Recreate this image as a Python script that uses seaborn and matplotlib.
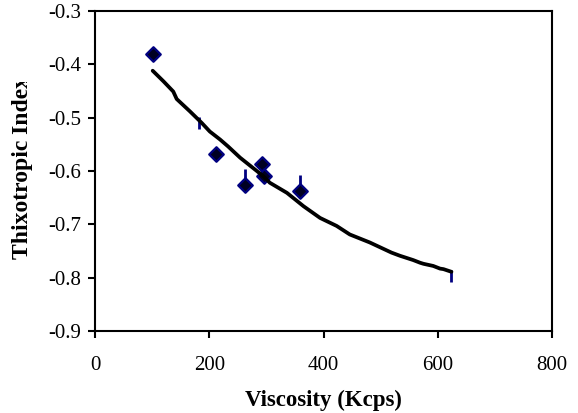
import matplotlib
matplotlib.use("Agg")
import matplotlib.pyplot as plt
import seaborn as sns
from matplotlib.transforms import Bbox


sns.set_theme(style="white")
plt.rcParams["font.family"] = ["Liberation Serif", "DejaVu Serif"]

# measured points
visc = [101, 212, 262, 292, 296, 358]
thix = [-0.380, -0.569, -0.627, -0.587, -0.610, -0.638]

# vertical error marks
bar_x = [182, 262, 358, 624]
bar_lo = [-0.521, -0.627, -0.638, -0.809]
bar_hi = [-0.498, -0.597, -0.608, -0.786]

# trend curve
fit_x = [101, 120, 137, 143, 166, 187, 201, 219, 233, 254, 295, 306, 336,
         365, 394, 423, 446, 481, 519, 534, 557, 569, 575, 592, 604, 610, 624]
fit_y = [-0.412, -0.432, -0.451, -0.465, -0.488, -0.510, -0.526, -0.541,
         -0.554, -0.575, -0.610, -0.622, -0.641, -0.666, -0.688, -0.703,
         -0.719, -0.734, -0.753, -0.759, -0.767, -0.772, -0.774, -0.778,
         -0.783, -0.784, -0.789]

x_ticks = [0, 200, 400, 600, 800]
y_ticks = [-0.9, -0.8, -0.7, -0.6, -0.5, -0.4, -0.3]

fig = plt.figure(figsize=(5.78, 4.13), dpi=100)
ax = fig.add_axes([95 / 578, 1 - 331 / 413, 457 / 578, 320 / 413])

ax.vlines(bar_x, bar_lo, bar_hi, color="#000080", lw=2, zorder=2)
sns.scatterplot(x=visc, y=thix, marker="D", s=55, color="#000022",
                edgecolor="#000080", linewidth=1.6, zorder=3, ax=ax)
sns.lineplot(x=fit_x, y=fit_y, color="black", lw=2.7, zorder=4, ax=ax)

ax.set_xlim(0, 800)
ax.set_ylim(-0.9, -0.3)
ax.set_xticks(x_ticks)
ax.set_yticks(y_ticks)
ax.set_xticklabels([str(t) for t in x_ticks])
ax.set_yticklabels([f"{t:.1f}" for t in y_ticks])
ax.tick_params(axis="both", direction="out", length=5, width=1.5,
               labelsize=15, colors="black", bottom=True, left=True, pad=5)
ax.tick_params(axis="x", pad=13)
for s in ax.spines.values():
    s.set_color("black")
    s.set_linewidth(1.5)

ax.set_xlabel("Viscosity (Kcps)", fontsize=16.5, fontweight="bold",
              color="black", labelpad=11)
yl = ax.set_ylabel("Thixotropic Index", fontsize=17, fontweight="bold",
                   color="black")
ax.yaxis.set_label_coords(-0.136, 0.51)
# the label box in the original is too short, so the last letter is cut
yl.set_clip_box(Bbox([[0, 0], [80, 413 - 82]]))
yl.set_clip_on(True)

fig.savefig("out.png", dpi=100)
